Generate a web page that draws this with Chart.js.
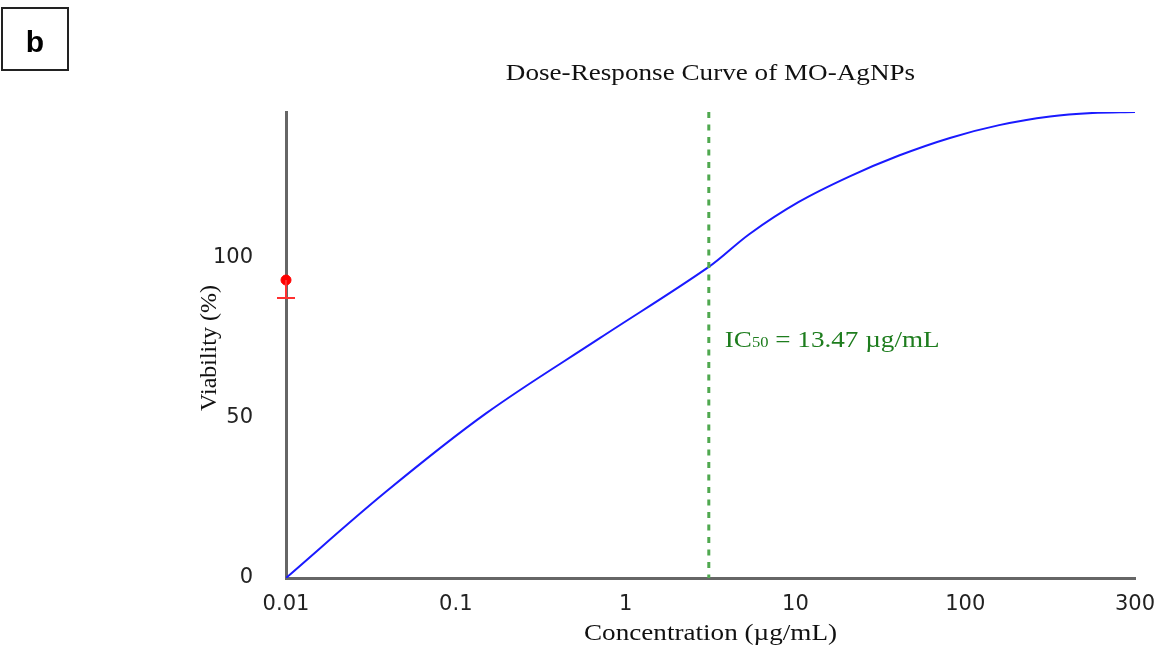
<!DOCTYPE html>
<html>
<head>
<meta charset="utf-8">
<script src="https://cdn.jsdelivr.net/npm/chart.js@4/dist/chart.umd.min.js"></script>
<style>
  html, body { margin: 0; padding: 0; background: #fff; }
  #wrap { width: 1157px; height: 647px; }
</style>
</head>
<body>
<div id="wrap"><canvas id="myChart" width="1157" height="647"></canvas></div>
<script>
// x positions are in axis units: 0 = 0.01, 1 = 0.1, ... 5 = 300 (evenly spaced ticks)
const xTickLabels = ["0.01", "0.1", "1", "10", "100", "300"];
const yTicks = [0, 50, 100];

const curveX = [0, 0.59, 1.18, 1.85, 2.49, 2.73, 3.02, 3.32, 3.61, 3.91, 4.2, 4.5, 4.75, 5.0];
const curveY = [0, 27.0, 51.5, 75.0, 97.2, 107.5, 117.5, 125.5, 132.0, 137.5, 141.5, 144.2, 145.3, 145.6];

// measured point with lower error bar
const pointX = [0];
const pointY = [93.1];
const pointErr = [5.6];

const ic50Pos = 2.49;
const ic50Label = "13.47 µg/mL";

const serif = "'Liberation Serif', 'Times New Roman', serif";
const stretch = 1.18; // the source figure text is widened horizontally

function wideText(ctx, text, x, y, align) {
  ctx.save();
  ctx.translate(x, y);
  ctx.scale(stretch, 1);
  ctx.textAlign = align;
  ctx.fillText(text, 0, 0);
  ctx.restore();
  return ctx.measureText(text).width * stretch;
}

const extras = {
  id: "extras",
  afterDatasetsDraw(chart) {
    const ctx = chart.ctx;
    const xs = chart.scales.x, ys = chart.scales.y;
    const area = chart.chartArea;
    ctx.save();

    // IC50 dashed line
    const lx = xs.getPixelForValue(ic50Pos);
    ctx.strokeStyle = "#4fa84f";
    ctx.lineWidth = 3;
    ctx.setLineDash([6, 6.5]);
    ctx.beginPath();
    ctx.moveTo(lx, area.top);
    ctx.lineTo(lx, area.bottom);
    ctx.stroke();
    ctx.setLineDash([]);

    // IC50 label
    ctx.fillStyle = "#1e7d1e";
    ctx.textBaseline = "alphabetic";
    let tx = lx + 16, ty = 347;
    ctx.font = "23px " + serif;
    tx += wideText(ctx, "IC", tx, ty, "left");
    ctx.font = "14px " + serif;
    tx += wideText(ctx, "50", tx, ty, "left");
    ctx.font = "23px " + serif;
    wideText(ctx, " = " + ic50Label, tx, ty, "left");

    // error bars
    ctx.strokeStyle = "#ff3030";
    ctx.lineWidth = 2;
    pointX.forEach((v, i) => {
      const px = xs.getPixelForValue(v);
      const y0 = ys.getPixelForValue(pointY[i]);
      const y1 = ys.getPixelForValue(pointY[i] - pointErr[i]);
      ctx.beginPath();
      ctx.moveTo(px, y0);
      ctx.lineTo(px, y1);
      ctx.moveTo(px - 9, y1);
      ctx.lineTo(px + 9, y1);
      ctx.stroke();
    });

    // title and axis titles
    ctx.fillStyle = "#111";
    ctx.font = "23px " + serif;
    ctx.textBaseline = "middle";
    const cx = (area.left + area.right) / 2;
    wideText(ctx, "Dose-Response Curve of MO-AgNPs", cx, 74, "center");
    wideText(ctx, "Concentration (µg/mL)", cx, 634, "center");
    ctx.save();
    ctx.translate(210, 348);
    ctx.rotate(-Math.PI / 2);
    ctx.font = "24px " + serif;
    ctx.textAlign = "center";
    ctx.fillText("Viability (%)", 0, 0);
    ctx.restore();

    // panel letter box
    ctx.strokeStyle = "#222";
    ctx.lineWidth = 2;
    ctx.strokeRect(2, 8, 66, 62);
    ctx.fillStyle = "#000";
    ctx.font = "bold 30px 'Liberation Sans', Arial, sans-serif";
    ctx.textBaseline = "middle";
    ctx.textAlign = "center";
    ctx.fillText("b", 35, 44);

    ctx.restore();
  }
};

const ctx = document.getElementById("myChart").getContext("2d");
const myChart = new Chart(ctx, {
  type: "scatter",
  data: {
    datasets: [
      {
        label: "Fit",
        data: curveX.map((x, i) => ({ x: x, y: curveY[i] })),
        showLine: true,
        borderColor: "#1a1aff",
        borderWidth: 2,
        pointRadius: 0,
        tension: 0.35,
        order: 2,
      },
      {
        label: "Measured",
        data: pointX.map((x, i) => ({ x: x, y: pointY[i] })),
        backgroundColor: "#ff0000",
        borderColor: "#ff0000",
        pointRadius: 5,
        clip: false,
        order: 1,
      },
    ],
  },
  options: {
    responsive: false,
    animation: false,
    layout: { padding: { left: 186, top: 112, right: 0, bottom: 0 } },
    scales: {
      x: {
        type: "linear",
        min: 0,
        max: 5,
        grid: { display: false },
        border: { display: true, color: "#666", width: 3 },
        afterBuildTicks: (s) => { s.ticks = xTickLabels.map((_, i) => ({ value: i })); },
        afterFit: (s) => { s.height = 69; s.paddingRight = 22; s.paddingLeft = 0; },
        ticks: {
          padding: 6,
          color: "#222",
          font: { family: "'DejaVu Sans', sans-serif", size: 21 },
          callback: (v) => xTickLabels[v],
        },
      },
      y: {
        min: 0,
        max: 145.6,
        grid: { display: false },
        border: { display: true, color: "#666", width: 3 },
        afterBuildTicks: (s) => { s.ticks = yTicks.map((v) => ({ value: v })); },
        afterFit: (s) => { s.width = 100; s.paddingTop = 0; s.paddingBottom = 0; },
        ticks: {
          padding: 25,
          color: "#222",
          font: { family: "'DejaVu Sans', sans-serif", size: 21 },
        },
      },
    },
    plugins: {
      legend: { display: false },
      tooltip: { enabled: false },
    },
  },
  plugins: [extras],
});
</script>
</body>
</html>
